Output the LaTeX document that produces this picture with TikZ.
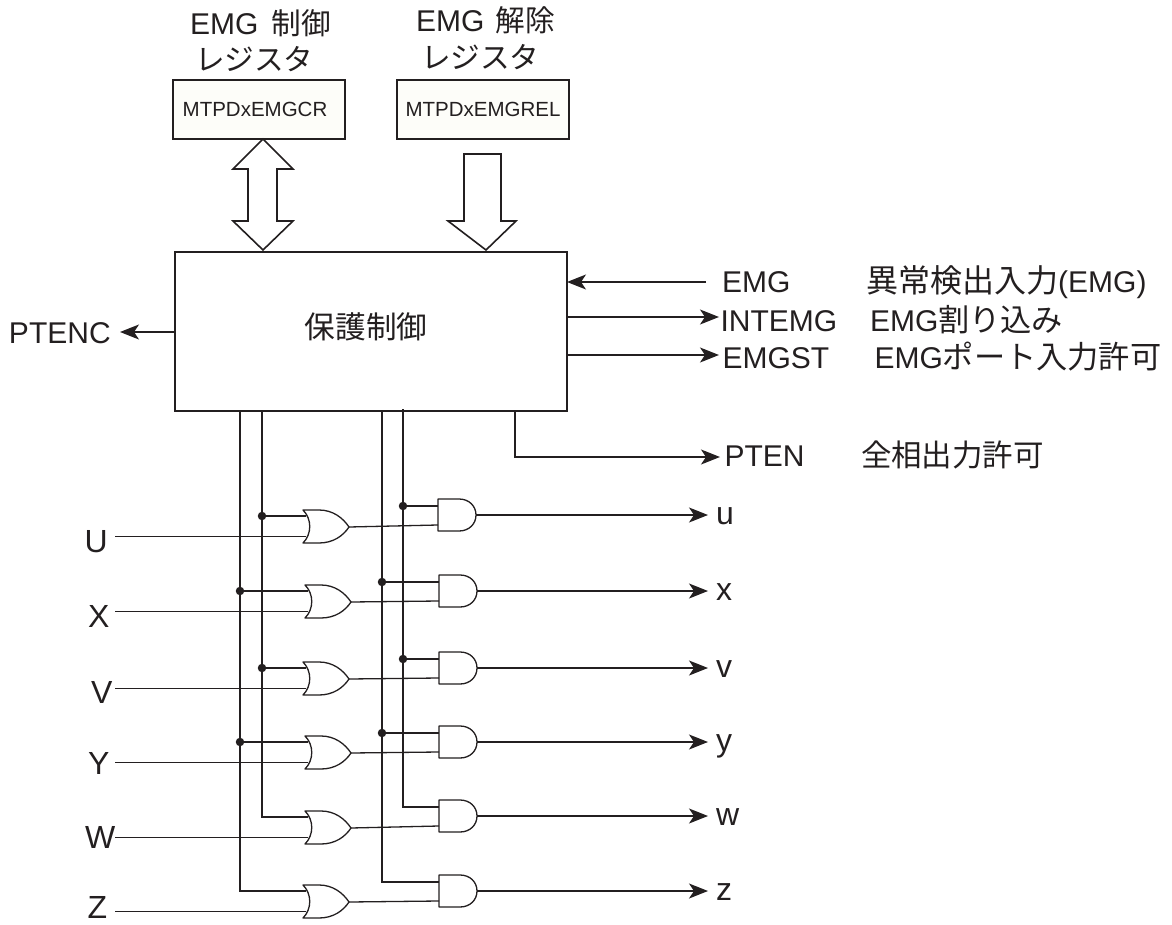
\documentclass[tikz,border=0pt]{standalone}
\usepackage{fontspec}
\setmainfont{Liberation Sans}
\newfontfamily\cjk{Noto Sans CJK JP}[Scale=1.04]
\usetikzlibrary{arrows.meta,calc}
\definecolor{ink}{HTML}{231F20}
\definecolor{regfill}{HTML}{FDFDF9}
\tikzset{
  x=1pt,y=-1pt,
  every node/.style={inner sep=0pt,outer sep=0pt,text=ink},
  wire/.style={draw=ink,line width=1.3pt},
  gatebody/.style={draw=ink,line width=1.3pt,fill=white,line join=round},
  outwire/.style={wire,-{Stealth[length=19pt,width=15pt,inset=5pt]}},
  reg/.style={draw=ink,line width=1.3pt,fill=regfill,minimum width=172pt,minimum height=59pt,font=\fontsize{20.5}{22}\selectfont},
  bigarrow/.style={draw=ink,line width=1.6pt,fill=white,line join=miter},
  lab/.style={font=\fontsize{32}{34}\selectfont,anchor=base west},
  toptext/.style={font=\fontsize{30}{34}\selectfont,anchor=base west},
  tap/.style={circle,fill=ink,minimum size=8.5pt},
}
\newcommand{\orgate}[3]{% name, left x, top y
  \coordinate (#1a) at (#2+3,#3+6);
  \coordinate (#1b) at (#2+3,#3+26.5);
  \coordinate (#1o) at (#2+46,#3+17);
  \draw[gatebody] (#2,#3) -- (#2+16,#3) .. controls (#2+30,#3) and (#2+40,#3+8) .. (#2+46,#3+17)
     .. controls (#2+40,#3+26) and (#2+30,#3+33) .. (#2+16,#3+33) -- (#2,#3+33)
     .. controls (#2+9,#3+24) and (#2+9,#3+9) .. (#2,#3) -- cycle;
}
\newcommand{\andgate}[3]{% name, left x, top y
  \coordinate (#1a) at (#2,#3+7);
  \coordinate (#1b) at (#2,#3+26);
  \coordinate (#1o) at (#2+38,#3+16);
  \draw[gatebody] (#2,#3) -- (#2+21,#3) .. controls (#2+31,#3) and (#2+38,#3+7) .. (#2+38,#3+16)
     .. controls (#2+38,#3+25) and (#2+31,#3+32) .. (#2+21,#3+32) -- (#2,#3+32) -- cycle;
}
\begin{document}
\begin{tikzpicture}
\useasboundingbox (0,0) rectangle (1172,925);
% registers
\node[reg,anchor=north west] (r1) at (173,80) {\hspace*{-8pt}MTPDxEMGCR};
\node[reg,anchor=north west] (r2) at (397,80) {MTPDxEMGREL};
\node[toptext] (t1a) at (190,35) {EMG \hspace{5pt}{\cjk\fontsize{28.5}{30}\selectfont 制御}};
\node[toptext] (t1b) at (195,71) {\cjk\fontsize{28.5}{30}\selectfont レジスタ};
\node[toptext] (t2a) at (416,32) {EMG \hspace{3pt}{\cjk\fontsize{28.5}{30}\selectfont 解除}};
\node[toptext] (t2b) at (421,69) {\cjk\fontsize{28.5}{30}\selectfont レジスタ};
% main block
\node[draw=ink,line width=2pt,fill=white,minimum width=392pt,minimum height=159pt,anchor=north west] (main) at (175,252) {};
\node[font=\cjk\fontsize{29.5}{34}\selectfont] (mainlabel) at (366,327) {保護制御};
% big arrows
\draw[bigarrow] (263,139) -- (293,169) -- (277,169) -- (277,221) -- (293,221) -- (263,250)
   -- (233,221) -- (248,221) -- (248,169) -- (233,169) -- cycle;
\draw[bigarrow] (464,154) -- (501,154) -- (501,221) -- (516,221) -- (486,250) -- (448,221) -- (464,221) -- cycle;
% right signals
\node[toptext] (emg) at (722,292) {EMG};
\node[toptext] (emgd) at (866,292) {{\cjk\fontsize{30.8}{34}\selectfont 異常検出入力}(EMG)};
\node[toptext] (intemg) at (720.5,331) {INTEMG};
\node[toptext] (intemgd) at (870,331) {EMG{\cjk 割り込み}};
\node[toptext] (emgst) at (722.5,368) {EMGST};
\node[toptext] (emgstd) at (874.5,368) {EMG{\cjk ポート入力許可}};
\node[toptext] (pten) at (724.5,466) {PTEN};
\node[toptext] (ptend) at (861,466) {\cjk\fontsize{29.3}{34}\selectfont 全相出力許可};
\node[toptext] (ptenc) at (9,343) {PTENC};
\coordinate (emgl) at (706,282);
\coordinate (emgm) at (567,282);
\coordinate (im) at (567,317);
\coordinate (il) at (719,317);
\coordinate (sm) at (567,355);
\coordinate (sl) at (719,355);
\draw[outwire] (emgl) -- (emgm);
\draw[outwire] (im) -- (il);
\draw[outwire] (sm) -- (sl);
\coordinate (p0) at (515,411);
\coordinate (p1) at (515,457);
\coordinate (p2) at (720,457);
\draw[outwire] (p0) -- (p1) -- (p2);
\coordinate (pc0) at (175,332);
\coordinate (pc1) at (120,332);
\draw[outwire] (pc0) -- (pc1);
% gates
\orgate{o1}{303}{510}
\orgate{o2}{305}{585}
\orgate{o3}{303}{662}
\orgate{o4}{305}{736}
\orgate{o5}{305}{811}
\orgate{o6}{303}{885}
\andgate{a1}{438}{499}
\andgate{a2}{439}{575}
\andgate{a3}{439}{652}
\andgate{a4}{439}{726}
\andgate{a5}{439}{800}
\andgate{a6}{439}{875}
% inputs
\coordinate (inx) at (115,0);
\foreach \n/\t/\x/\y/\g in {iu/U/84.5/552/o1,ix/X/88/627/o2,iv/V/91/703/o3,iy/Y/88/774/o4,iw/W/85/848/o5,iz/Z/87.5/918/o6}{
  \node[lab] (\n) at (\x,\y) {\t};
  \coordinate (s\n) at (inx |- \g b);
  \draw[wire] (s\n) -- (\g b);
}
% buses
\coordinate (b1) at (240,411);
\coordinate (b2) at (262,411);
\coordinate (b3) at (382,411);
\coordinate (b4) at (403,409);
\draw[wire] (b1) -- (b1 |- o6a) -- (o6a);
\draw[wire] (b2) -- (b2 |- o5a) -- (o5a);
\draw[wire] (b3) -- (b3 |- a6a) -- (a6a);
\draw[wire] (b4) -- (b4 |- a5a) -- (a5a);
% taps
\foreach \n/\b/\g in {d1/b2/o1,d2/b1/o2,d3/b2/o3,d4/b1/o4,d5/b4/a1,d6/b3/a2,d7/b4/a3,d8/b3/a4}{
  \node[tap] (\n) at (\b |- \g a) {};
  \draw[wire] (\n) -- (\g a);
}
% OR to AND
\foreach \i in {1,...,6}{
  \draw[wire] (o\i o) -- (a\i b);
}
% outputs
\coordinate (tipx) at (708,0);
\coordinate (labx) at (716,0);
\foreach \i/\t in {1/u,2/x,3/v,4/y,5/w,6/z}{
  \coordinate (e\i) at (tipx |- a\i o);
  \draw[outwire] (a\i o) -- (e\i);
  \node[lab] (l\i) at ($(labx |- a\i o)+(0,9)$) {\t};
}
\end{tikzpicture}
\end{document}
